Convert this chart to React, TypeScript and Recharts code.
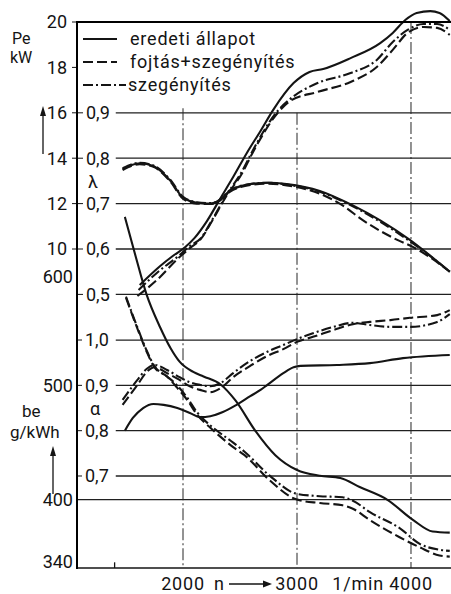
import React from 'react';
import { LineChart, Line, XAxis, YAxis, ReferenceLine } from 'recharts';

const INK = '#141414';
const FONT = 'Roboto, "DejaVu Sans", sans-serif';

// [n (1/min), value]
const peOriginal = [
  [1620, 8.41], [1800, 9.25], [1910, 9.69], [2020, 10.09], [2100, 10.48], [2210, 11.23],
  [2330, 12.25], [2440, 13.17], [2560, 14.23], [2680, 15.2], [2790, 16.12], [2970, 17.31],
  [3110, 17.8], [3230, 17.93], [3470, 18.41], [3730, 19.07], [3840, 19.52], [3950, 20.09],
  [4050, 20.4], [4170, 20.48], [4250, 20.4], [4340, 20.04],
];
const peThrottleLean = [
  [1600, 7.93], [1770, 8.63], [1960, 9.6], [2060, 10.04], [2150, 10.4], [2260, 11.28],
  [2370, 12.25], [2520, 13.35], [2610, 14.23], [2830, 15.99], [2940, 16.52], [3180, 16.92],
  [3470, 17.36], [3700, 18.02], [3840, 18.77], [3970, 19.52], [4110, 19.78], [4230, 19.74],
  [4340, 19.43],
];
const peLean = [
  [1610, 8.19], [1780, 8.99], [1960, 9.69], [2060, 10.13], [2150, 10.44], [2260, 11.32],
  [2370, 12.29], [2520, 13.44], [2610, 14.32], [2830, 16.08], [2940, 16.61], [3180, 17.31],
  [3470, 17.75], [3700, 18.33], [3840, 19.12], [3970, 19.65], [4110, 19.91], [4230, 19.91],
  [4340, 19.65],
];

const lambdaOriginal = [
  [1470, 0.776], [1620, 0.789], [1740, 0.783], [1890, 0.75], [2000, 0.713], [2120, 0.702],
  [2240, 0.7], [2300, 0.704], [2410, 0.728], [2590, 0.743], [2750, 0.746], [2910, 0.743],
  [3200, 0.728], [3490, 0.696], [3730, 0.663], [3990, 0.62], [4140, 0.591], [4340, 0.55],
];
const lambdaThrottleLean = [
  [1470, 0.774], [1620, 0.787], [1740, 0.781], [1890, 0.748], [2000, 0.711], [2120, 0.7],
  [2240, 0.699], [2300, 0.703], [2410, 0.726], [2590, 0.741], [2750, 0.744], [2910, 0.74],
  [3200, 0.722], [3400, 0.696], [3580, 0.663], [3880, 0.62], [4020, 0.604], [4110, 0.591],
  [4340, 0.55],
];
const lambdaLean = [
  [1470, 0.778], [1620, 0.79], [1740, 0.784], [1890, 0.752], [2000, 0.715], [2120, 0.703],
  [2240, 0.701], [2300, 0.705], [2410, 0.729], [2590, 0.743], [2750, 0.746], [2910, 0.742],
  [3200, 0.726], [3490, 0.694], [3730, 0.66], [3990, 0.617], [4140, 0.59], [4340, 0.55],
];

const alphaOriginal = [
  [1490, 0.8], [1560, 0.828], [1650, 0.85], [1740, 0.859], [1830, 0.857], [1950, 0.85],
  [2060, 0.839], [2150, 0.83], [2240, 0.832], [2350, 0.841], [2470, 0.857], [2590, 0.876],
  [2680, 0.89], [2740, 0.901], [2880, 0.927], [2970, 0.94], [3030, 0.943], [3350, 0.945],
  [3640, 0.949], [3930, 0.96], [4340, 0.967],
];
const alphaThrottleLean = [
  [1470, 0.857], [1600, 0.901], [1680, 0.929], [1750, 0.94], [1860, 0.927], [1970, 0.912],
  [2060, 0.898], [2150, 0.89], [2240, 0.885], [2330, 0.894], [2440, 0.918], [2590, 0.943],
  [2740, 0.965], [2880, 0.98], [3000, 0.996], [3140, 1.007], [3320, 1.022], [3490, 1.035],
  [3640, 1.04], [3820, 1.044], [3990, 1.049], [4230, 1.055], [4340, 1.066],
];
const alphaLean = [
  [1470, 0.868], [1600, 0.912], [1680, 0.936], [1750, 0.945], [1860, 0.934], [1970, 0.918],
  [2060, 0.907], [2150, 0.901], [2240, 0.898], [2330, 0.905], [2440, 0.927], [2590, 0.954],
  [2740, 0.974], [2880, 0.989], [3000, 1.002], [3140, 1.015], [3320, 1.029], [3490, 1.038],
  [3640, 1.033], [3820, 1.029], [3990, 1.029], [4230, 1.04], [4340, 1.057],
];

const beOriginal = [
  [1490, 648], [1580, 615], [1680, 580], [1800, 551], [1890, 533], [1970, 521], [2090, 512],
  [2180, 508], [2330, 501], [2460, 487], [2630, 461], [2810, 439], [3000, 426], [3200, 421],
  [3380, 419], [3550, 411], [3790, 400], [4020, 382], [4190, 372], [4340, 371],
];
const beThrottleLean = [
  [1500, 577], [1600, 550], [1680, 530], [1750, 516], [1860, 508], [1950, 498], [2040, 487],
  [2120, 475], [2240, 463], [2330, 455], [2440, 446], [2540, 439], [2760, 417], [3000, 400],
  [3200, 397], [3400, 395], [3490, 392], [3640, 382], [3900, 367], [4080, 358], [4250, 351],
  [4340, 350],
];
const beLean = [
  [1500, 578], [1600, 551], [1680, 531], [1750, 517], [1860, 508], [1950, 500], [2040, 489],
  [2120, 477], [2240, 465], [2330, 458], [2440, 450], [2540, 442], [2760, 421], [3000, 405],
  [3200, 403], [3400, 402], [3490, 399], [3640, 389], [3900, 375], [4080, 361], [4250, 356],
  [4340, 355],
];

const legendLabels = ['eredeti állapot', 'fojtás+szegényítés', 'szegényítés'];
const rpmTicks = [2000, 3000, 4000];
const peTicks = [20, 18, 16, 14, 12, 10];
const lambdaTicks = [0.9, 0.8, 0.7, 0.6, 0.5];
const alphaTicks = [1.0, 0.9, 0.8, 0.7];
const beTicks = [600, 500, 400, 340];

// ranges picked so the four scales share the printed grid
const RPM_DOMAIN = [1070, 4351];
const PE_DOMAIN = [-4.053, 20.705];
const LAMBDA_DOMAIN = [-0.1027, 1.1353];
const ALPHA_DOMAIN = [0.497, 1.737];
const BE_DOMAIN = [340, 833];
const GRID_START = 1410;

const dashes = ['', '10 4', '10 3 2 3'];

const curves = [
  { axis: 'pe', rows: peOriginal, style: 0 },
  { axis: 'pe', rows: peThrottleLean, style: 1 },
  { axis: 'pe', rows: peLean, style: 2 },
  { axis: 'lambda', rows: lambdaOriginal, style: 0 },
  { axis: 'lambda', rows: lambdaThrottleLean, style: 1 },
  { axis: 'lambda', rows: lambdaLean, style: 2 },
  { axis: 'alpha', rows: alphaOriginal, style: 0 },
  { axis: 'alpha', rows: alphaThrottleLean, style: 1 },
  { axis: 'alpha', rows: alphaLean, style: 2 },
  { axis: 'be', rows: beOriginal, style: 0 },
  { axis: 'be', rows: beThrottleLean, style: 1 },
  { axis: 'be', rows: beLean, style: 2 },
];

const toPoints = (rows: number[][]) => rows.map(([n, v]) => ({ n, v }));
const comma = (v: number) => v.toFixed(1).replace('.', ',');

const gridStroke = { stroke: '#202020', strokeWidth: 1.3, ifOverflow: 'visible' as const };
const vGridStroke = { stroke: '#262626', strokeWidth: 1, strokeDasharray: '12 3 2 3', ifOverflow: 'visible' as const };

function RpmTick(props: any) {
  const { x, y, payload } = props;
  const v = payload.value;
  const txt = { fill: INK, fontSize: 18, fontFamily: FONT, letterSpacing: 0.8 };
  return (
    <g>
      <text x={x} y={y + 20} textAnchor="middle" {...txt}>{v}</text>
      {v === 2000 && (
        <g>
          <text x={x + 31} y={y + 20} {...txt}>n</text>
          <line x1={x + 46} x2={x + 82} y1={y + 14} y2={y + 14} stroke={INK} strokeWidth={1.4} />
          <path d={`M${x + 89},${y + 14} L${x + 80},${y + 10.5} L${x + 80},${y + 17.5} Z`} fill={INK} />
        </g>
      )}
      {v === 4000 && (
        <text x={x - 27} y={y + 20} textAnchor="end" {...txt}>1/min</text>
      )}
    </g>
  );
}

function BeTick(props: any) {
  const { x, y, payload } = props;
  const shift = payload.value === 600 ? 5 : payload.value === 340 ? -6 : 0;
  return (
    <text x={x} y={y + shift} dy="0.355em" textAnchor="end" fill={INK} fontSize={18} fontFamily={FONT}>
      {payload.value}
    </text>
  );
}

// axis titles, arrows, legend and the chart frame (top at 20 kW, left edge)
function Annotations() {
  const t = { fill: INK, fontFamily: FONT };
  return (
    <svg width={451} height={594} style={{ position: 'absolute', left: 0, top: 0, pointerEvents: 'none' }}>
      <line x1={77} y1={21} x2={77} y2={569} stroke="#000" strokeWidth={2} />
      <line x1={76} y1={22} x2={451} y2={22} stroke="#000" strokeWidth={2} />
      <text x={12} y={44} fontSize={16} {...t}>Pe</text>
      <text x={10} y={63} fontSize={16} {...t}>kW</text>
      <line x1={43} x2={43} y1={154} y2={113} stroke={INK} strokeWidth={1.3} />
      <path d="M43,106 L40,116 L46,116 Z" fill={INK} />
      <text x={88} y={188} fontSize={18} {...t}>λ</text>
      <text x={22} y={417} fontSize={17} {...t}>be</text>
      <text x={10} y={438} fontSize={17} {...t}>g/kWh</text>
      <line x1={53} x2={53} y1={494} y2={453} stroke={INK} strokeWidth={1.3} />
      <path d="M53,446 L50,456 L56,456 Z" fill={INK} />
      <text x={90} y={415} fontSize={18} {...t}>α</text>
      {legendLabels.map((label, i) => (
        <g key={label}>
          <line x1={83} x2={i === 2 ? 126 : 117} y1={39 + i * 23} y2={39 + i * 23}
            stroke={INK} strokeWidth={2.2} strokeDasharray={dashes[i] || undefined} />
          <text x={i === 2 ? 128 : 130} y={45 + i * 23} fontSize={18} letterSpacing={0.8} {...t}>{label}</text>
        </g>
      ))}
    </svg>
  );
}

export default function App() {
  return (
    <div style={{ position: 'absolute', left: 0, top: 0, width: 451, height: 594, background: '#fff' }}>
      <LineChart width={451} height={594} margin={{ top: 6, right: 0, bottom: 0, left: 75 }}>
        <XAxis dataKey="n" type="number" domain={RPM_DOMAIN} ticks={rpmTicks} allowDataOverflow
          height={26} tickSize={0} tickLine={false} interval={0}
          axisLine={{ stroke: INK, strokeWidth: 1.4 }} tick={<RpmTick />} />
        <YAxis yAxisId="pe" width={1} domain={PE_DOMAIN} ticks={peTicks} allowDataOverflow interval={0}
          axisLine={false} tickSize={4} tickMargin={5} tickLine={{ stroke: INK }}
          tick={{ fill: INK, fontSize: 18, fontFamily: FONT }} />
        <YAxis yAxisId="be" width={1} domain={BE_DOMAIN} ticks={beTicks} allowDataOverflow interval={0}
          axisLine={false} tickSize={3} tickMargin={1} tickLine={false} tick={<BeTick />} />
        <YAxis yAxisId="lambda" mirror width={1} domain={LAMBDA_DOMAIN} ticks={lambdaTicks} allowDataOverflow
          interval={0} axisLine={false} tickSize={5} tickMargin={3} tickLine={{ stroke: INK }}
          tickFormatter={comma} tick={{ fill: INK, fontSize: 18, fontFamily: FONT }} />
        <YAxis yAxisId="alpha" mirror width={1} domain={ALPHA_DOMAIN} ticks={alphaTicks} allowDataOverflow
          interval={0} axisLine={false} tickSize={5} tickMargin={3} tickLine={{ stroke: INK }}
          tickFormatter={comma} tick={{ fill: INK, fontSize: 18, fontFamily: FONT }} />

        {/* grid */}
        {lambdaTicks.map((v) => (
          <ReferenceLine key={'l' + v} yAxisId="lambda" segment={[{ x: GRID_START, y: v }, { x: RPM_DOMAIN[1], y: v }]} {...gridStroke} />
        ))}
        {alphaTicks.map((v) => (
          <ReferenceLine key={'a' + v} yAxisId="alpha" segment={[{ x: GRID_START, y: v }, { x: RPM_DOMAIN[1], y: v }]} {...gridStroke} />
        ))}
        <ReferenceLine yAxisId="be" segment={[{ x: RPM_DOMAIN[0], y: 400 }, { x: RPM_DOMAIN[1], y: 400 }]} {...gridStroke} />
        <ReferenceLine yAxisId="pe" segment={[{ x: 2000, y: 16.2 }, { x: 2000, y: PE_DOMAIN[0] }]} {...vGridStroke} />
        <ReferenceLine yAxisId="pe" segment={[{ x: 3000, y: 16 }, { x: 3000, y: PE_DOMAIN[0] }]} {...vGridStroke} />
        <ReferenceLine yAxisId="pe" segment={[{ x: 4000, y: 20 }, { x: 4000, y: PE_DOMAIN[0] }]} {...vGridStroke} />
        <ReferenceLine yAxisId="be" segment={[{ x: 1400, y: 340 }, { x: 1400, y: 345 }]} stroke={INK} strokeWidth={1.3} ifOverflow="visible" />

        {curves.map((c, i) => (
          <Line key={i} yAxisId={c.axis} data={toPoints(c.rows)} dataKey="v" type="monotone"
            stroke={INK} strokeWidth={2.1} strokeDasharray={dashes[c.style] || undefined}
            dot={false} activeDot={false} isAnimationActive={false} />
        ))}
      </LineChart>
      <Annotations />
    </div>
  );
}
